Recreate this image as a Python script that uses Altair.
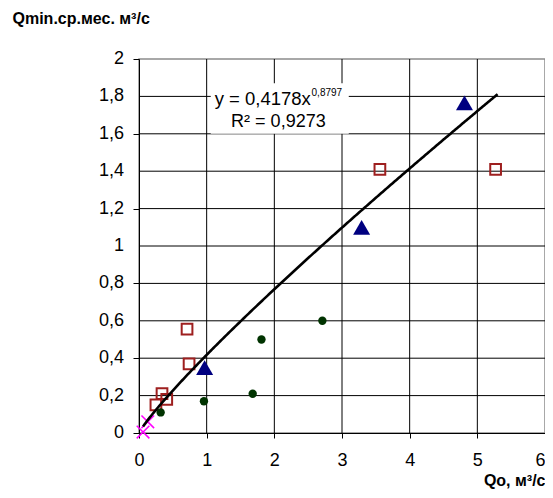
import altair as alt
import pandas as pd

# --- data ---
tri_x = [0.97, 3.29, 4.81]
tri_y = [0.35, 1.10, 1.765]
sq_x = [0.25, 0.34, 0.41, 0.71, 0.74, 3.56, 5.27]
sq_y = [0.15, 0.21, 0.18, 0.556, 0.37, 1.41, 1.41]
ci_x = [0.32, 0.96, 1.68, 1.81, 2.71]
ci_y = [0.11, 0.17, 0.21, 0.50, 0.60]
cr_x = [0.06, 0.13]
cr_y = [0.005, 0.06]

# power trendline y = a * x^b shown on the chart
fit_a = 0.4178
fit_b = 0.8797
fit_start = 0.06
fit_end = 5.3

x_ticks = [0, 1, 2, 3, 4, 5, 6]
y_ticks = [0, 0.2, 0.4, 0.6, 0.8, 1, 1.2, 1.4, 1.6, 1.8, 2]
y_labels = ["0", "0,2", "0,4", "0,6", "0,8", "1", "1,2", "1,4", "1,6", "1,8", "2"]

eq_main = "y = 0,4178x"
eq_sup = "0,8797"
eq_r2 = "R² = 0,9273"
x_title = "Qo, м³/с"
y_title = "Qmin.ср.мес. м³/с"

FONT = "Liberation Sans"
comma = "replace(format(datum.value, '~g'), '.', ',')"

xs = alt.Scale(domain=[0, 6], nice=False)
ys = alt.Scale(domain=[0, 2], nice=False)

x_axis = alt.Axis(values=x_ticks, labelExpr=comma, grid=False,
                  tickSize=5, tickColor="black", domainColor="black",
                  labelFontSize=18, labelPadding=13, labelColor="black",
                  labelOverlap=False, labelFlush=False,
                  labelAlign={"condition": {"test": "datum.value === 6", "value": "right"},
                              "value": "center"},
                  title=x_title, titleFontSize=16, titleFontWeight="bold",
                  titleColor="black", titleAlign="right", titleBaseline="alphabetic",
                  titleX=406, titleY=52)
y_axis = alt.Axis(values=y_ticks, labels=False, grid=False,
                  tickSize=6, tickColor="black", domainColor="black",
                  title=y_title, titleFontSize=16, titleFontWeight="bold",
                  titleColor="black", titleAngle=0, titleAlign="left",
                  titleBaseline="middle", titleX=-127, titleY=-41)

# equation text box (data units)
box_df = pd.DataFrame({"x": [1.06], "x2": [3.1], "y": [1.60], "y2": [1.87]})
ann = pd.DataFrame({
    "x": [2.54, 2.55, 2.06],
    "y": [1.755, 1.80, 1.635],
    "t": [eq_main, eq_sup, eq_r2],
})

sq = pd.DataFrame({"x": sq_x, "y": sq_y})
ci = pd.DataFrame({"x": ci_x, "y": ci_y})
tr = pd.DataFrame({"x": tri_x, "y": tri_y})
cr = pd.DataFrame({"x": cr_x, "y": cr_y})
vg = pd.DataFrame({"x": x_ticks[1:-1]})
hg = pd.DataFrame({"y": y_ticks[1:-1]})
yl = pd.DataFrame({"y": y_ticks, "t": y_labels})

base_x = alt.X("x:Q", scale=xs, axis=x_axis)
base_y = alt.Y("y:Q", scale=ys, axis=y_axis)

vgrid = alt.Chart(vg).mark_rule(color="black", strokeWidth=1).encode(x=base_x)
hgrid = alt.Chart(hg).mark_rule(color="black", strokeWidth=1).encode(y=base_y)

ylab = alt.Chart(yl).mark_text(
    align="right", baseline="middle", fontSize=18, font=FONT, color="black", dx=-15
).encode(x=alt.datum(0), y="y:Q", text="t:N")

squares = alt.Chart(sq).mark_point(
    shape="square", filled=False, color="#9e1f1f", strokeWidth=2, size=115, opacity=1
).encode(x="x:Q", y="y:Q")

circles = alt.Chart(ci).mark_point(
    shape="circle", filled=True, color="#003300", size=70, opacity=1
).encode(x="x:Q", y="y:Q")

triangles = alt.Chart(tr).mark_point(
    shape="triangle-up", filled=True, color="#000080", size=290, opacity=1
).encode(x="x:Q", y="y:Q")

crosses = alt.Chart(cr).mark_point(
    shape="M-1,-1L1,1M-1,1L1,-1", filled=False, color="#ff00ff", strokeWidth=1.5,
    size=160, opacity=1
).encode(x="x:Q", y="y:Q")

trend = alt.Chart(alt.sequence(fit_start, fit_end + 0.001, 0.02, as_="x")).transform_calculate(
    y=f"{fit_a} * pow(datum.x, {fit_b})"
).mark_line(color="black", strokeWidth=2.6).encode(x="x:Q", y="y:Q")

box = alt.Chart(box_df).mark_rect(color="white").encode(
    x="x:Q", x2="x2", y="y:Q", y2="y2"
)

t_main = alt.Chart(ann.iloc[[0]]).mark_text(
    align="right", baseline="alphabetic", fontSize=18.5, font=FONT, color="black"
).encode(x="x:Q", y="y:Q", text="t:N")
t_sup = alt.Chart(ann.iloc[[1]]).mark_text(
    align="left", baseline="alphabetic", fontSize=10, font=FONT, color="black"
).encode(x="x:Q", y="y:Q", text="t:N")
t_r2 = alt.Chart(ann.iloc[[2]]).mark_text(
    align="center", baseline="alphabetic", fontSize=18, font=FONT, color="black"
).encode(x="x:Q", y="y:Q", text="t:N")

chart = alt.layer(
    vgrid, hgrid, squares, circles, triangles, crosses, trend, box,
    t_main, t_sup, t_r2, ylab
).properties(
    width=406, height=374,
    autosize=alt.AutoSizeParams(type="none"),
    padding={"left": 131, "top": 51, "right": 0, "bottom": 57},
).configure(font=FONT).configure_view(stroke="#8c8c8c", strokeWidth=1.5)

chart.save("out.html", embed_options={"renderer": "svg", "actions": False})
